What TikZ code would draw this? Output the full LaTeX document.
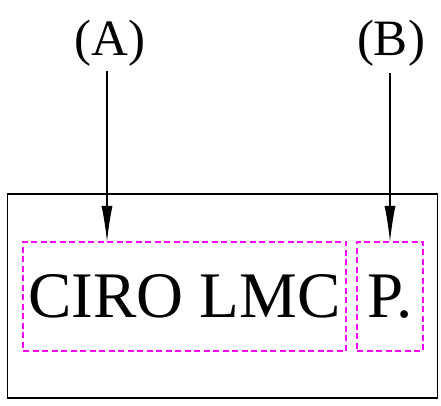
\documentclass[tikz,border=0pt]{standalone}
\usepackage{fontspec}
\setmainfont{Liberation Serif}
\usetikzlibrary{arrows.meta}
\definecolor{boxpink}{RGB}{255,0,255}
\tikzset{
  field/.style={draw=boxpink,dashed,dash pattern=on 6pt off 3.5pt,line width=1.2pt,inner sep=0pt,font=\fontsize{65}{65}\selectfont},
  tag/.style={font=\fontsize{51}{51}\selectfont,inner sep=0pt},
  pointer/.style={-{Latex[length=36pt,width=11pt]},line width=1.3pt}
}
\begin{document}
\begin{tikzpicture}[x=1pt,y=1pt]
  \useasboundingbox (0,0) rectangle (441,406);
  % outer frame
  \node[draw,line width=1.8pt,minimum width=430pt,minimum height=204pt,inner sep=0pt] (frame) at (222.5,110) {};
  % fields
  \node[field,minimum width=323pt,minimum height=109pt] (name) at (184.5,109.5) {CIRO LMC};
  \node[field,minimum width=66pt,minimum height=109pt] (init) at (390,109.5) {P.};
  % labels
  \node[tag] (labA) at (110,363) {(A)};
  \node[tag] (labB) at (391,363) {(B)};
  \coordinate (tipA) at (107,164);
  \coordinate (tipB) at (390,164);
  \draw[pointer] (labA.south -| tipA) ++(0,-5) -- (tipA);
  \draw[pointer] (labB.south -| tipB) ++(0,-7) -- (tipB);
\end{tikzpicture}
\end{document}
